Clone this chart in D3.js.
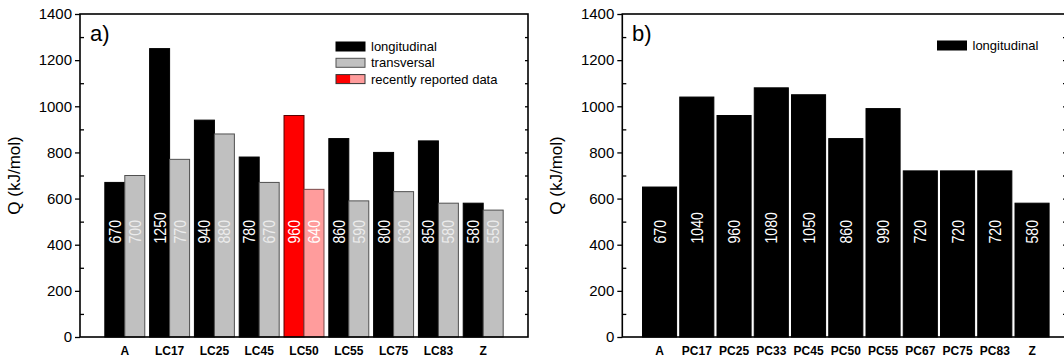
<!DOCTYPE html>
<html><head><meta charset="utf-8">
<script src="https://cdn.jsdelivr.net/npm/d3@7"></script>
<style>
body{margin:0;background:#fff;}
svg{display:block;font-family:"Liberation Sans",Arial,sans-serif;}
</style></head>
<body><svg id="c" width="1064" height="358"></svg>
<script>
// Panel a data
const catsA = ["A","LC17","LC25","LC45","LC50","LC55","LC75","LC83","Z"];
const longA = [670,1250,940,780,960,860,800,850,580];
const transA = [700,770,880,670,640,590,630,580,550];
const recentIdx = ["LC50"];
// Panel b data
const catsB = ["A","PC17","PC25","PC33","PC45","PC50","PC55","PC67","PC75","PC83","Z"];
const longB = [650,1040,960,1080,1050,860,990,720,720,720,580];
const labelsB = [670,1040,960,1080,1050,860,990,720,720,720,580];
const yTicks = [0,200,400,600,800,1000,1200,1400];
const legendA = ["longitudinal","transversal","recently reported data"];
const legendB = ["longitudinal"];

const svg = d3.select("#c");
const plotTop = 14, plotBottom = 337;
const y = d3.scaleLinear().domain([0,1400]).range([plotBottom, plotTop]);
const labelAt = 405;

function frame(g, x, rightX){
  const x0 = x.range()[0];
  g.append("g").attr("transform",`translate(${x0},0)`)
    .call(d3.axisLeft(y).tickValues(yTicks).tickSize(5).tickPadding(3).tickFormat(d3.format("d")))
    .call(s=>s.select(".domain").remove())
    .call(s=>s.selectAll("text").attr("font-size",15).attr("font-family","Liberation Sans, Arial").attr("fill","#000"))
    .call(s=>s.selectAll("line").attr("stroke-width",1.3));
  g.append("g").attr("transform",`translate(${x0},0)`)
    .call(d3.axisRight(y).tickValues(d3.range(100,1400,200)).tickSize(4).tickFormat(""))
    .call(s=>s.select(".domain").remove())
    .call(s=>s.selectAll("line").attr("stroke-width",1.3));
  g.append("g").attr("transform",`translate(${rightX},0)`)
    .call(d3.axisLeft(y).tickValues(d3.range(100,1400,100)).tickSize(3).tickFormat(""))
    .call(s=>s.select(".domain").remove())
    .call(s=>s.selectAll("line").attr("stroke-width",1.3));
  g.append("rect").attr("x",x0).attr("y",plotTop).attr("width",rightX-x0).attr("height",plotBottom-plotTop)
    .attr("fill","none").attr("stroke","#000").attr("stroke-width",1.6);
  g.append("text").attr("transform",`translate(${x0-60},${(plotTop+plotBottom)/2}) rotate(-90)`)
    .attr("text-anchor","middle").attr("font-size",17).text("Q (kJ/mol)");
}

function vlabel(g, cx, val, color){
  g.append("text")
    .attr("transform",`translate(${cx+6},${y(labelAt)}) rotate(-90) scale(0.86,1)`)
    .attr("font-family","Liberation Sans Narrow, Arial Narrow, Liberation Sans, sans-serif")
    .attr("font-size",16.5).attr("fill",color).text(val);
}

// ---------- Panel a ----------
{
  const g = svg.append("g");
  const x = d3.scaleLinear().domain([0,catsA.length+1]).range([80,528]);
  const step = x(1)-x(0), w = step*0.446;
  const bars = g.append("g");
  catsA.forEach((c,i)=>{
    const cx = x(i+1);
    const recent = recentIdx.includes(c);
    bars.append("rect").attr("x",cx-w).attr("y",y(longA[i])).attr("width",w).attr("height",y(0)-y(longA[i]))
      .attr("fill",recent?"#ff0000":"#000").attr("stroke",recent?"#5a0000":"#000").attr("stroke-width",1);
    bars.append("rect").attr("x",cx).attr("y",y(transA[i])).attr("width",w).attr("height",y(0)-y(transA[i]))
      .attr("fill",recent?"#ff9c9c":"#c0c0c0").attr("stroke",recent?"#7a4a4a":"#505050").attr("stroke-width",1);
    vlabel(g, cx-w/2, longA[i], "#fff");
    vlabel(g, cx+w/2, transA[i], recent?"#fff":"#ececec");
    g.append("text").attr("x",cx).attr("y",355).attr("text-anchor","middle")
      .attr("font-size",12).attr("font-weight","bold").text(c);
  });
  frame(g, x, 528);
  g.append("text").attr("x",90).attr("y",41).attr("font-size",22).text("a)");
  const lg = g.append("g");
  const lx = 336, lw = 29, lh = 9, ly0 = 42, dy = 16.3;
  legendA.forEach((t,i)=>{
    const yy = ly0 + i*dy;
    if(i===0){
      lg.append("rect").attr("x",lx).attr("y",yy).attr("width",lw).attr("height",lh).attr("fill","#000").attr("stroke","#000");
    } else if(i===1){
      lg.append("rect").attr("x",lx).attr("y",yy).attr("width",lw).attr("height",lh).attr("fill","#c0c0c0").attr("stroke","#505050");
    } else {
      lg.append("rect").attr("x",lx).attr("y",yy).attr("width",lw/2).attr("height",lh).attr("fill","#ff0000");
      lg.append("rect").attr("x",lx+lw/2).attr("y",yy).attr("width",lw/2).attr("height",lh).attr("fill","#ff9c9c");
      lg.append("rect").attr("x",lx).attr("y",yy).attr("width",lw).attr("height",lh).attr("fill","none").attr("stroke","#333");
    }
    lg.append("text").attr("x",lx+lw+6).attr("y",yy+lh).attr("font-size",13).text(t);
  });
}

// ---------- Panel b ----------
{
  const g = svg.append("g");
  const x = d3.scaleLinear().domain([0,catsB.length+1]).range([622.3,1069.3]);
  const step = x(1)-x(0), w = step*0.915;
  catsB.forEach((c,i)=>{
    const cx = x(i+1);
    g.append("rect").attr("x",cx-w/2).attr("y",y(longB[i])).attr("width",w).attr("height",y(0)-y(longB[i]))
      .attr("fill","#000").attr("stroke","#000").attr("stroke-width",1);
    vlabel(g, cx, labelsB[i], "#fff");
    g.append("text").attr("x",cx).attr("y",355).attr("text-anchor","middle")
      .attr("font-size",12).attr("font-weight","bold").text(c);
  });
  frame(g, x, 1066);
  g.append("text").attr("x",632).attr("y",41).attr("font-size",22).text("b)");
  const lx = 937.5, lw = 29, lh = 9, ly0 = 41;
  legendB.forEach((t)=>{
    g.append("rect").attr("x",lx).attr("y",ly0).attr("width",lw).attr("height",lh).attr("fill","#000").attr("stroke","#000");
    g.append("text").attr("x",lx+lw+6).attr("y",ly0+lh).attr("font-size",13).text(t);
  });
}
</script></body></html>
